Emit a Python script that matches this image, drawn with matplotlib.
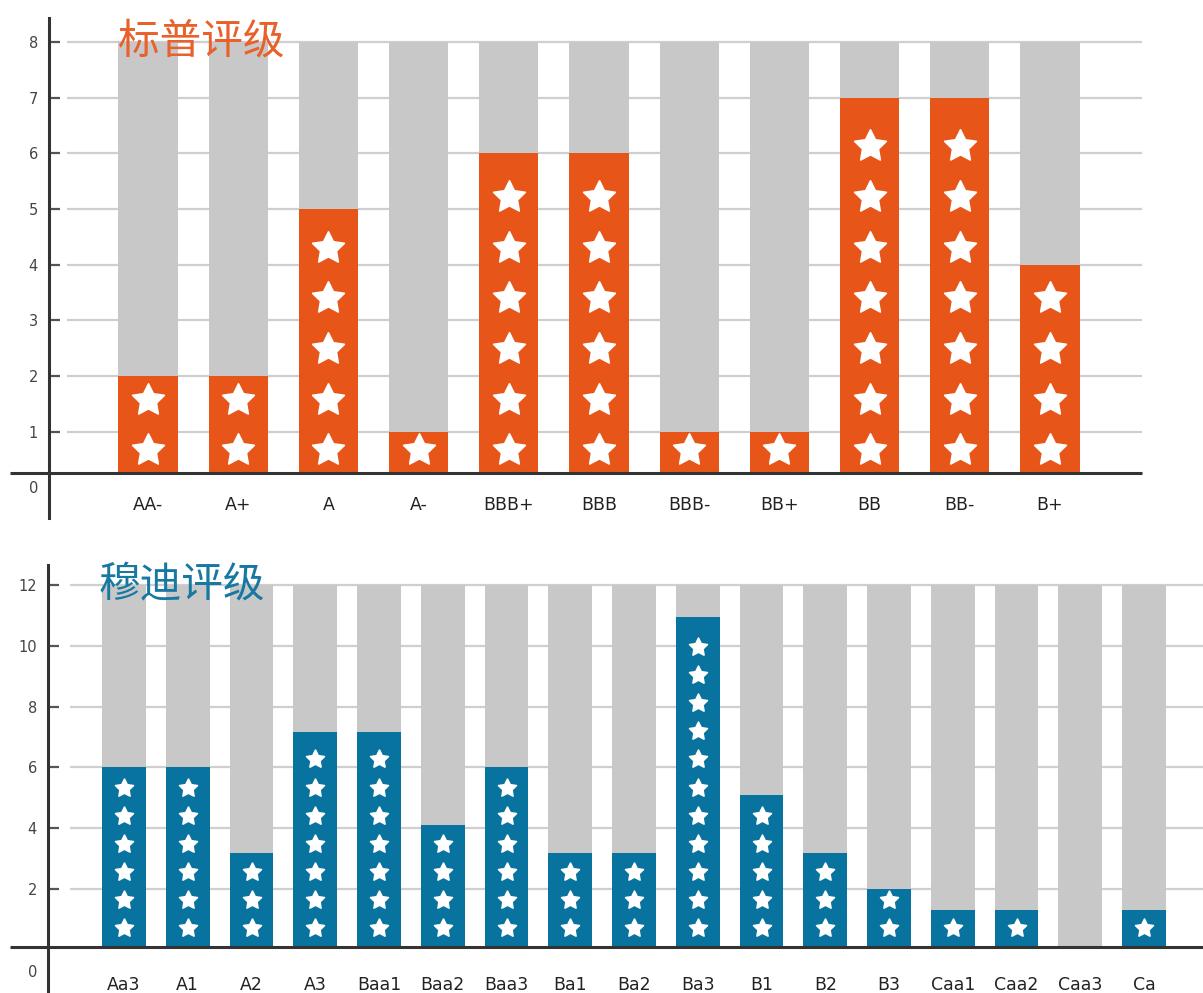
import matplotlib
matplotlib.use("Agg")
import matplotlib.pyplot as plt
import numpy as np
from matplotlib.path import Path

# ---------------- data ----------------
sp_title = "标普评级"
sp_labels = ["AA-", "A+", "A", "A-", "BBB+", "BBB", "BBB-", "BB+", "BB", "BB-", "B+"]
sp_values = [2, 2, 5, 1, 6, 6, 1, 1, 7, 7, 4]
sp_stars = [2, 2, 5, 1, 6, 6, 1, 1, 7, 7, 4]
sp_max = 8
sp_yticks = [1, 2, 3, 4, 5, 6, 7, 8]

md_title = "穆迪评级"
md_labels = ["Aa3", "A1", "A2", "A3", "Baa1", "Baa2", "Baa3", "Ba1", "Ba2", "Ba3",
             "B1", "B2", "B3", "Caa1", "Caa2", "Caa3", "Ca"]
md_values = [6, 6, 3.2, 7.15, 7.15, 4.1, 6, 3.2, 3.2, 10.95, 5.1, 3.2, 2, 1.3, 1.3, 0, 1.3]
md_stars = [6, 6, 3, 7, 7, 4, 6, 3, 3, 11, 5, 3, 2, 1, 1, 0, 1]
md_max = 12
md_yticks = [2, 4, 6, 8, 10, 12]

# ---------------- style ----------------
ORANGE = "#E85518"
BLUE = "#07739E"
GRAY_BAR = "#C8C8C8"
GRID = "#CFCFCF"
AXIS = "#333333"
TXT = "#222222"

W, H = 1203, 993
fig = plt.figure(figsize=(W / 100, H / 100), dpi=100)
fig.patch.set_facecolor("white")

star_path = Path.unit_regular_star(5, 0.5)


def px_axes(x0, y0, x1, y1):
    return fig.add_axes([x0 / W, 1 - y1 / H, (x1 - x0) / W, (y1 - y0) / H])


def draw_panel(ax, labels, values, stars, vmax, yticks, base, xlim, ylim, grid_x0,
               color, bar_w, star_first, star_step, star_ms, lab_y, lab_fs,
               zero_y, base_x0, grid_x1):
    x = np.arange(len(labels))
    ax.set_xlim(*xlim)
    ax.set_ylim(*ylim)
    for s in ["top", "right", "bottom"]:
        ax.spines[s].set_visible(False)
    ax.spines["left"].set_color(AXIS)
    ax.spines["left"].set_linewidth(2.2)
    ax.set_xticks([])
    # gridlines
    ax.hlines(yticks, grid_x0, grid_x1, colors=GRID, linewidth=1.6, zorder=0)
    # background bars
    ax.bar(x, [vmax - base] * len(x), bottom=base, width=bar_w, color=GRAY_BAR, zorder=1)
    # value bars
    heights = np.clip(np.array(values, dtype=float) - base, 0, None)
    ax.bar(x, heights, bottom=base, width=bar_w, color=color, zorder=2)
    # stars
    for i, n in enumerate(stars):
        if n > 0:
            ys = star_first + star_step * np.arange(n)
            ax.plot(np.full(n, x[i]), ys, linestyle="none", marker=star_path,
                    ms=star_ms, mfc="white", mec="white", mew=1.2, zorder=3)
    # baseline
    ax.hlines([base], base_x0, grid_x1, colors=AXIS, linewidth=2.2, zorder=4, clip_on=False)
    # y ticks
    tk = [zero_y] + list(yticks)
    tl = ["0"] + [str(t) for t in yticks]
    ax.set_yticks(tk)
    ax.set_yticklabels(tl, fontsize=10.5, color="#444444")
    ax.tick_params(axis="y", direction="in", length=8, width=1.6, color="#555555", pad=8)
    ax.yaxis.get_major_ticks()[0].tick1line.set_visible(False)
    # x labels
    for i, lab in enumerate(labels):
        ax.text(x[i], lab_y, lab, ha="center", va="center", fontsize=lab_fs,
                color=TXT, family="DejaVu Sans")


# top panel (S&P)
u1 = 55.66
y0_1 = 487.3
ax1 = px_axes(49, 18, 1142, 518)
draw_panel(ax1, sp_labels, sp_values, sp_stars, sp_max, sp_yticks,
           base=0.25,
           xlim=((49 - 148) / 90.2, (1142 - 148) / 90.2),
           ylim=(-(518 - y0_1) / u1, 8 + (42 - 18) / u1),
           grid_x0=(67 - 148) / 90.2,
           color=ORANGE, bar_w=0.655,
           star_first=0.25 + 23 / u1, star_step=50.7 / u1, star_ms=24,
           lab_y=-(505 - y0_1) / u1, lab_fs=12.5,
           zero_y=0, base_x0=(10 - 148) / 90.2, grid_x1=(1142 - 148) / 90.2)

# bottom panel (Moody's)
u2 = 30.4
ax2 = px_axes(48, 565, 1203, 993)
draw_panel(ax2, md_labels, md_values, md_stars, md_max, md_yticks,
           base=0.09,
           xlim=((48 - 124) / 63.75, (1203 - 124) / 63.75),
           ylim=(2 - (993 - 889) / u2, 12 + (585 - 565) / u2),
           grid_x0=(70 - 124) / 63.75,
           color=BLUE, bar_w=0.69,
           star_first=0.09 + 19 / u2, star_step=28.1 / u2, star_ms=13.5,
           lab_y=2 - (985 - 889) / u2, lab_fs=12.5,
           zero_y=2 - (971 - 889) / u2, base_x0=(10 - 124) / 63.75,
           grid_x1=(1203 - 124) / 63.75)

# titles
fig.text(118 / W, 1 - 42 / H, sp_title, fontsize=30, color="#E8602A", weight="medium",
         family=["Noto Sans CJK SC", "DejaVu Sans"], ha="left", va="center", zorder=10)
fig.text(99 / W, 1 - 585 / H, md_title, fontsize=30, color="#1778A2", weight="medium",
         family=["Noto Sans CJK SC", "DejaVu Sans"], ha="left", va="center", zorder=10)

fig.savefig("out.png", dpi=100, facecolor="white")
